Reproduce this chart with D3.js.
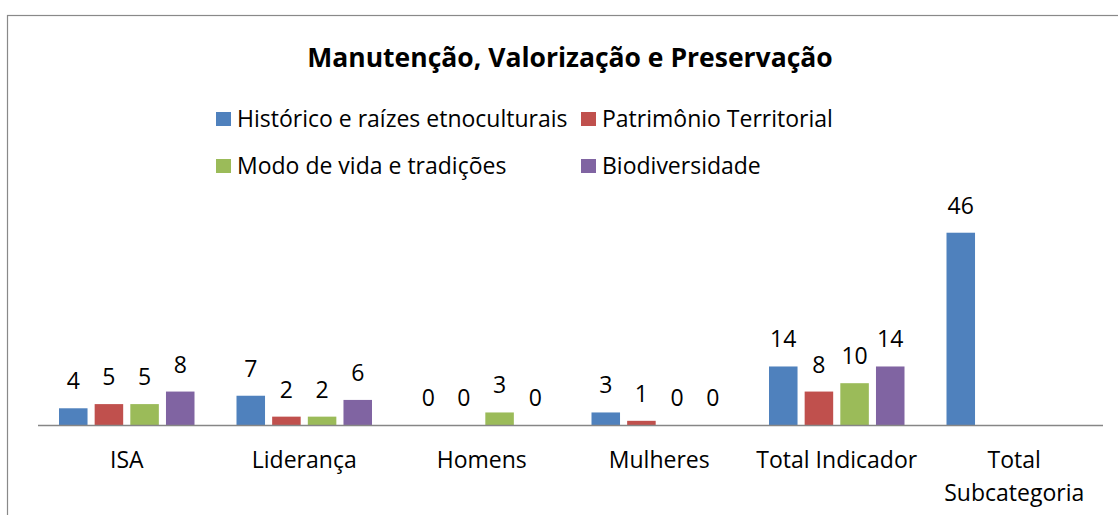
<!DOCTYPE html>
<html>
<head>
<meta charset="utf-8">
<script src="https://cdn.jsdelivr.net/npm/d3@7"></script>
<style>
  html, body { margin: 0; padding: 0; background: #fff; }
  svg { display: block; font-family: "Open Sans", "Noto Sans", sans-serif; }
</style>
</head>
<body>
<svg id="chart" width="1118" height="515"></svg>
<script>
// Dados do gráfico
const categories = ['ISA', 'Liderança', 'Homens', 'Mulheres', 'Total Indicador', 'Total Subcategoria'];
const seriesNames = ['Histórico e raízes etnoculturais', 'Patrimônio Territorial', 'Modo de vida e tradições', 'Biodiversidade'];
const historico = [4, 7, 0, 3, 14, 46];
const patrimonio = [5, 2, 0, 1, 8, null];
const modoDeVida = [5, 2, 3, 0, 10, null];
const biodiversidade = [8, 6, 0, 0, 14, null];
const colors = ['#4F81BD', '#C0504D', '#9BBB59', '#8064A2'];

const seriesValues = [historico, patrimonio, modoDeVida, biodiversidade];

const svg = d3.select('#chart');
const W = 1118, H = 515;

// Moldura
svg.append('rect')
  .attr('x', 7.5).attr('y', 15.5)
  .attr('width', W + 20).attr('height', H + 20)
  .attr('fill', 'none')
  .attr('stroke', '#898989')
  .attr('stroke-width', 1.2);

// Título
svg.append('text')
  .attr('x', 570).attr('y', 67)
  .attr('text-anchor', 'middle')
  .attr('font-size', '26.5px')
  .attr('font-weight', 'bold')
  .attr('fill', '#000')
  .text('Manutenção, Valorização e Preservação');

// Escalas
const x0 = d3.scaleBand().domain(categories).range([38, 1103]).padding(0);
const x1 = d3.scaleBand().domain(d3.range(4))
  .range([21, x0.bandwidth() - 21]).paddingInner(0.2);
const y = d3.scaleLinear().domain([0, 50]).range([425, 216]);

// Barras
const data = [];
categories.forEach((c, i) => {
  seriesValues.forEach((vals, s) => {
    if (vals[i] !== null) data.push({ cat: c, s, v: vals[i] });
  });
});

const g = svg.append('g');
g.selectAll('rect.bar')
  .data(data)
  .enter()
  .append('rect')
  .attr('class', 'bar')
  .attr('x', d => x0(d.cat) + x1(d.s))
  .attr('y', d => y(d.v))
  .attr('width', x1.bandwidth())
  .attr('height', d => y(0) - y(d.v))
  .attr('fill', d => colors[d.s]);

// Rótulos de valores
g.selectAll('text.val')
  .data(data)
  .enter()
  .append('text')
  .attr('class', 'val')
  .attr('x', d => x0(d.cat) + x1(d.s) + x1.bandwidth() / 2)
  .attr('y', d => y(d.v) - 19)
  .attr('text-anchor', 'middle')
  .attr('font-size', '23px')
  .attr('fill', '#000')
  .text(d => d.v);

// Eixo horizontal
svg.append('line')
  .attr('x1', 38).attr('x2', 1103)
  .attr('y1', y(0) + 0.5).attr('y2', y(0) + 0.5)
  .attr('stroke', '#868686')
  .attr('stroke-width', 1.5);

// Rótulos de categorias (com quebra de linha)
categories.forEach(c => {
  const t = svg.append('text')
    .attr('x', x0(c) + x0.bandwidth() / 2)
    .attr('y', 468)
    .attr('text-anchor', 'middle')
    .attr('font-size', '23px')
    .attr('fill', '#000')
    .text(c);
  if (t.node().getComputedTextLength() > x0.bandwidth() - 4) {
    const words = c.split(' ');
    t.text(null);
    words.forEach((w, i) => {
      t.append('tspan')
        .attr('x', x0(c) + x0.bandwidth() / 2)
        .attr('dy', i === 0 ? 0 : 33)
        .text(w);
    });
  }
});

// Legenda
const legendPos = [
  { x: 216, y: 119 },
  { x: 581, y: 119 },
  { x: 216, y: 166 },
  { x: 581, y: 166 }
];
seriesNames.forEach((name, i) => {
  const p = legendPos[i];
  svg.append('rect')
    .attr('x', p.x).attr('y', p.y - 7)
    .attr('width', 15).attr('height', 14)
    .attr('fill', colors[i]);
  svg.append('text')
    .attr('x', p.x + 21).attr('y', p.y + 8)
    .attr('font-size', '23px')
    .attr('fill', '#000')
    .text(name);
});
</script>
</body>
</html>
